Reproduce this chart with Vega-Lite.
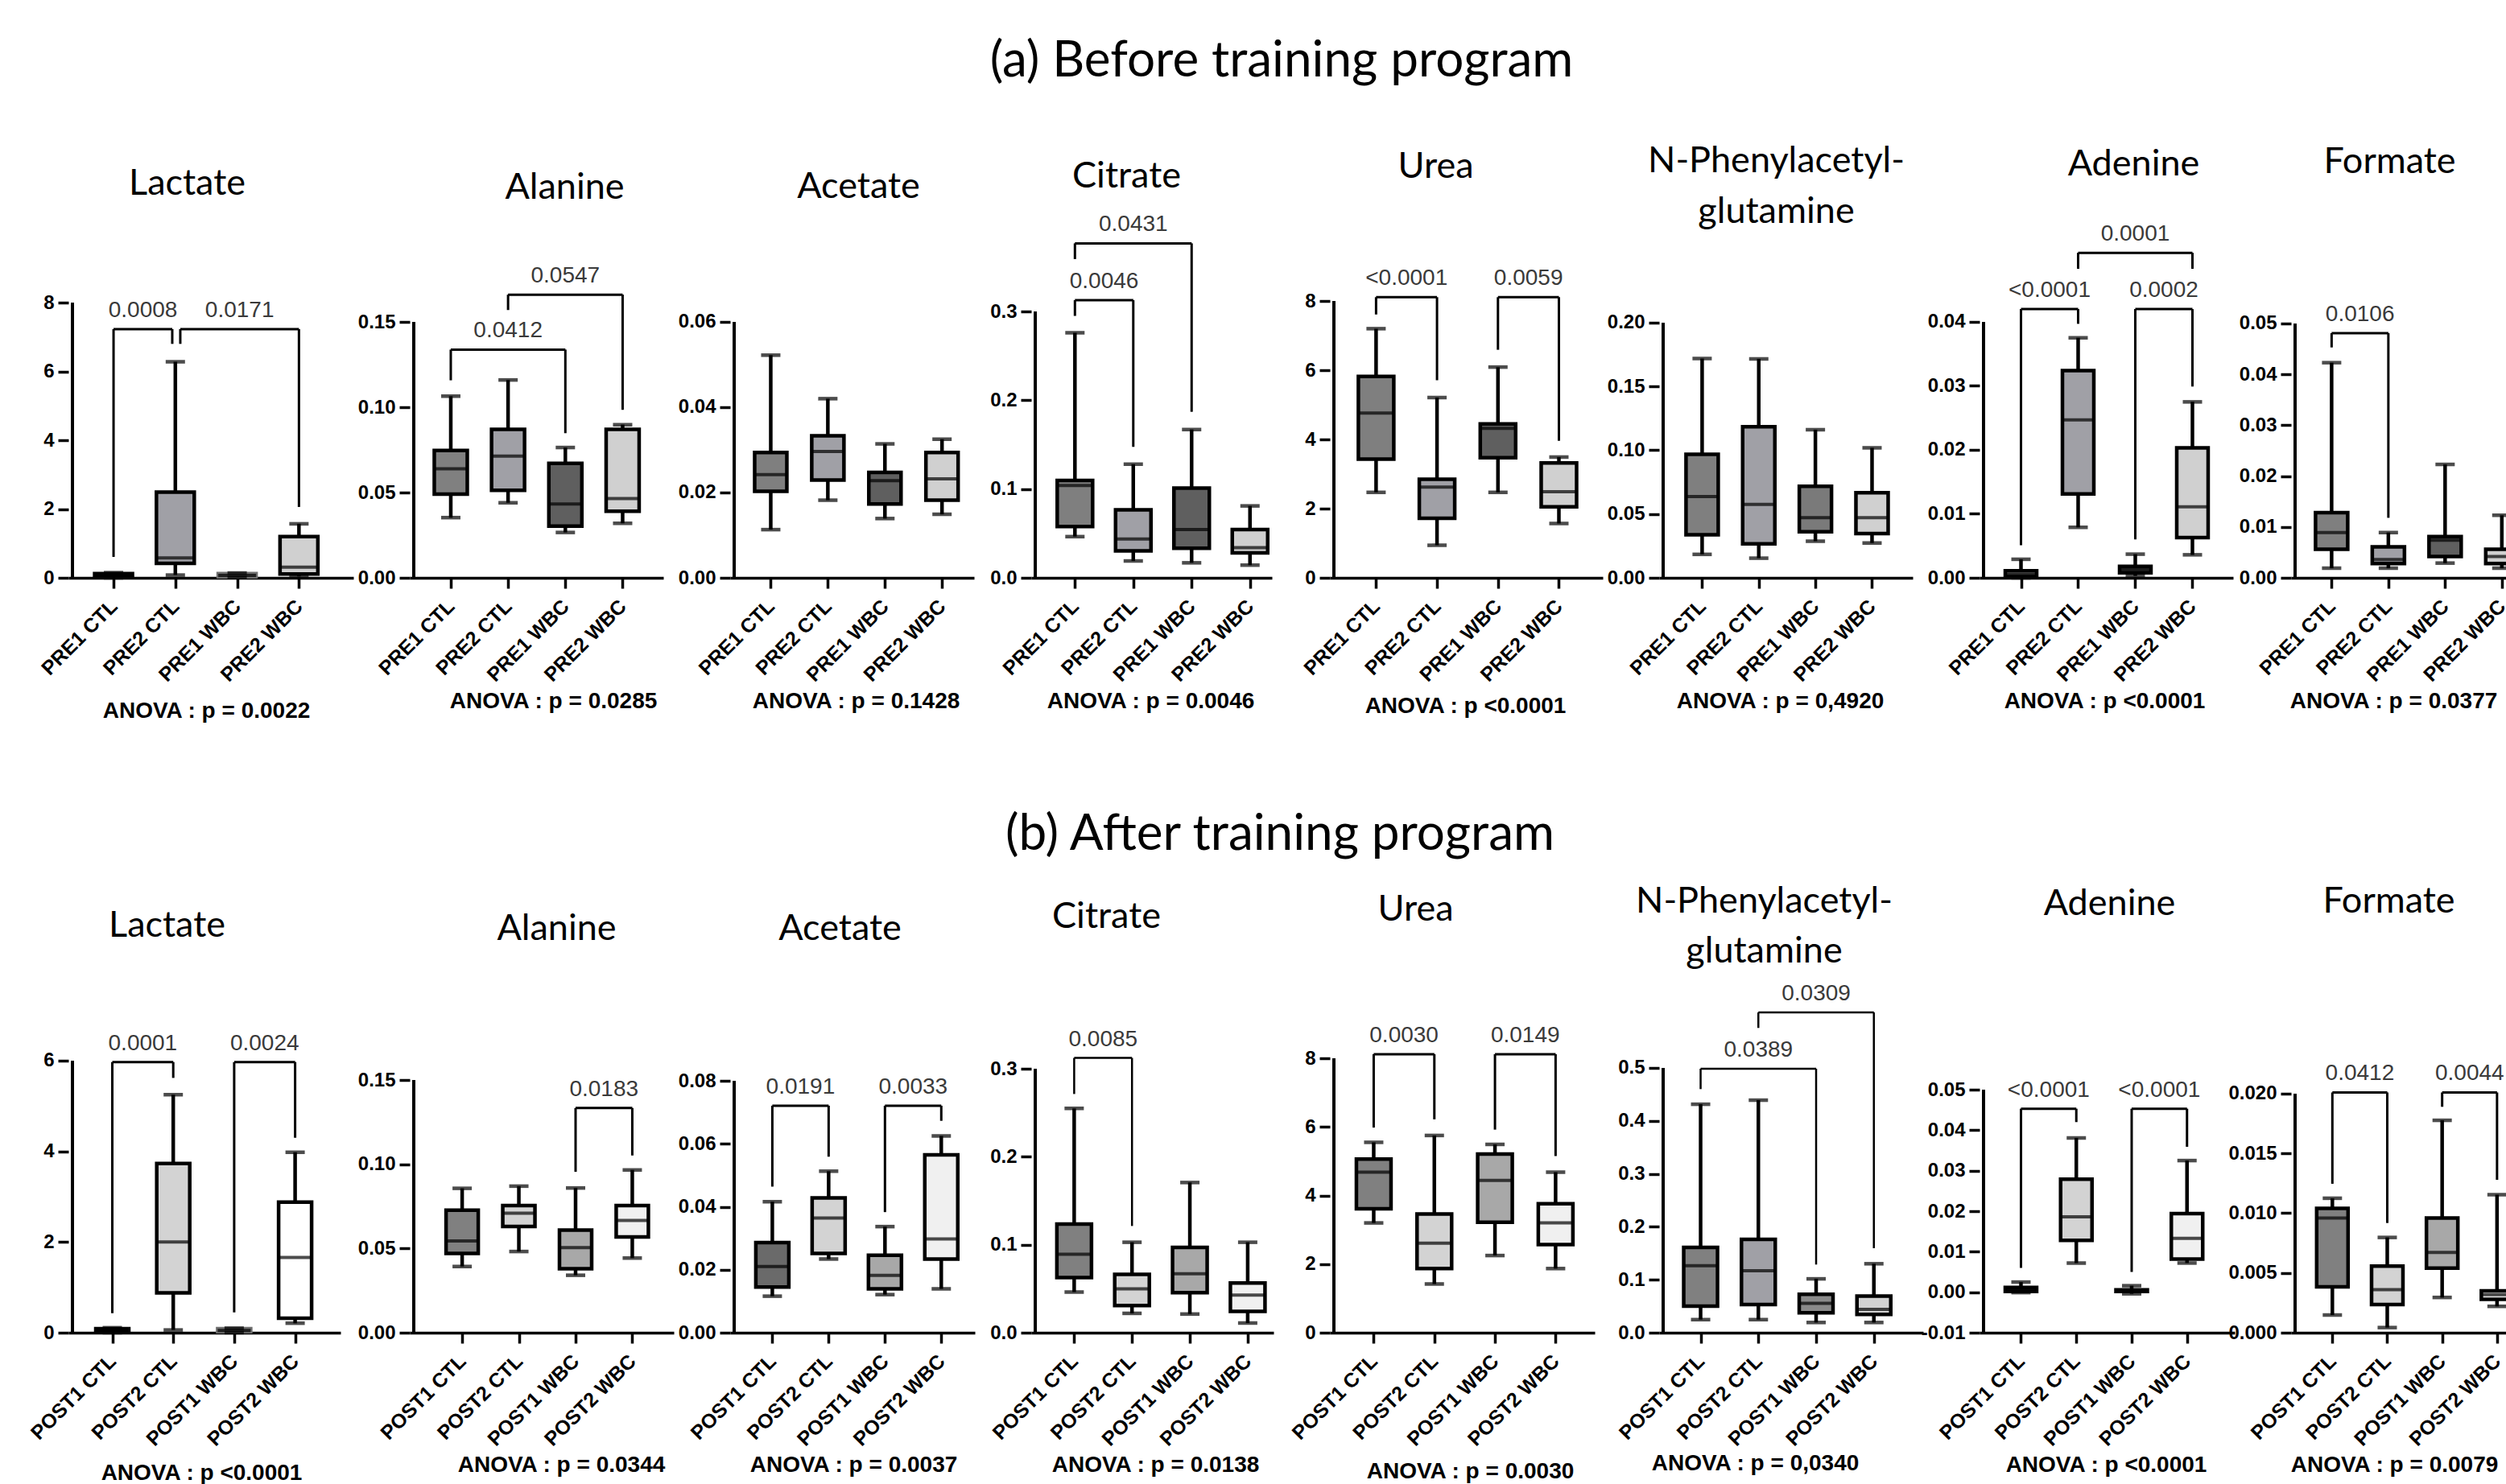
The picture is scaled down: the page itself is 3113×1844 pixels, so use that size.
{
"$schema":"https://vega.github.io/schema/vega-lite/v6.json",
"padding":{"left":33,"top":45,"right":0,"bottom":0},
"columns":8,
"spacing":{"row":597,"column":70},
"bounds":"flush",
"align":"none",
"resolve":{"scale":{"fill":"independent","stroke":"independent"}},
"datasets":{
"box":[
{"p":"A1","g":1,"lo":0,"q1":0.02,"md":0.06,"q3":0.12,"hi":0.15},
{"p":"A1","g":2,"lo":0.08,"q1":0.42,"md":0.58,"q3":2.49,"hi":6.28},
{"p":"A1","g":3,"lo":0.01,"q1":0.03,"md":0.07,"q3":0.12,"hi":0.14},
{"p":"A1","g":4,"lo":0.04,"q1":0.11,"md":0.31,"q3":1.2,"hi":1.57},
{"p":"A2","g":1,"lo":0.0353,"q1":0.0491,"md":0.0639,"q3":0.0747,"hi":0.1065},
{"p":"A2","g":2,"lo":0.044,"q1":0.0513,"md":0.0714,"q3":0.087,"hi":0.116},
{"p":"A2","g":3,"lo":0.0266,"q1":0.0303,"md":0.0433,"q3":0.0671,"hi":0.0764},
{"p":"A2","g":4,"lo":0.032,"q1":0.039,"md":0.0465,"q3":0.087,"hi":0.0898},
{"p":"A3","g":1,"lo":0.0113,"q1":0.0203,"md":0.0242,"q3":0.0294,"hi":0.0522},
{"p":"A3","g":2,"lo":0.0182,"q1":0.0229,"md":0.0296,"q3":0.0333,"hi":0.042},
{"p":"A3","g":3,"lo":0.0139,"q1":0.0173,"md":0.0228,"q3":0.0247,"hi":0.0314},
{"p":"A3","g":4,"lo":0.0149,"q1":0.0182,"md":0.0232,"q3":0.0294,"hi":0.0325},
{"p":"A4","g":1,"lo":0.0464,"q1":0.0577,"md":0.104,"q3":0.1096,"hi":0.276},
{"p":"A4","g":2,"lo":0.019,"q1":0.0303,"md":0.0438,"q3":0.0767,"hi":0.128},
{"p":"A4","g":3,"lo":0.0169,"q1":0.0333,"md":0.0544,"q3":0.101,"hi":0.167},
{"p":"A4","g":4,"lo":0.0143,"q1":0.0282,"md":0.034,"q3":0.0544,"hi":0.081},
{"p":"A5","g":1,"lo":2.47,"q1":3.43,"md":4.76,"q3":5.82,"hi":7.2},
{"p":"A5","g":2,"lo":0.94,"q1":1.72,"md":2.62,"q3":2.85,"hi":5.21},
{"p":"A5","g":3,"lo":2.47,"q1":3.47,"md":4.32,"q3":4.45,"hi":6.09},
{"p":"A5","g":4,"lo":1.57,"q1":2.05,"md":2.49,"q3":3.32,"hi":3.49},
{"p":"A6","g":1,"lo":0.0184,"q1":0.0338,"md":0.0637,"q3":0.0969,"hi":0.1719},
{"p":"A6","g":2,"lo":0.0154,"q1":0.0267,"md":0.0575,"q3":0.1185,"hi":0.1716},
{"p":"A6","g":3,"lo":0.0287,"q1":0.0361,"md":0.0471,"q3":0.0717,"hi":0.1161},
{"p":"A6","g":4,"lo":0.0273,"q1":0.0347,"md":0.0471,"q3":0.0667,"hi":0.1019},
{"p":"A7","g":1,"lo":0,"q1":0.0002,"md":0.0005,"q3":0.0011,"hi":0.0029},
{"p":"A7","g":2,"lo":0.0079,"q1":0.0131,"md":0.0247,"q3":0.0324,"hi":0.0375},
{"p":"A7","g":3,"lo":0.0003,"q1":0.0008,"md":0.0013,"q3":0.0018,"hi":0.0037},
{"p":"A7","g":4,"lo":0.0036,"q1":0.0063,"md":0.0111,"q3":0.0203,"hi":0.0275},
{"p":"A8","g":1,"lo":0.0019,"q1":0.0056,"md":0.0089,"q3":0.0128,"hi":0.0423},
{"p":"A8","g":2,"lo":0.0019,"q1":0.0028,"md":0.0036,"q3":0.0061,"hi":0.0089},
{"p":"A8","g":3,"lo":0.0029,"q1":0.0042,"md":0.0074,"q3":0.0081,"hi":0.0223},
{"p":"A8","g":4,"lo":0.0019,"q1":0.0028,"md":0.0042,"q3":0.0056,"hi":0.0123},
{"p":"B1","g":1,"lo":0,"q1":0.02,"md":0.05,"q3":0.09,"hi":0.11},
{"p":"B1","g":2,"lo":0.06,"q1":0.88,"md":2.0,"q3":3.73,"hi":5.25},
{"p":"B1","g":3,"lo":0,"q1":0.02,"md":0.05,"q3":0.09,"hi":0.1},
{"p":"B1","g":4,"lo":0.21,"q1":0.32,"md":1.66,"q3":2.88,"hi":3.98},
{"p":"B2","g":1,"lo":0.0393,"q1":0.047,"md":0.0545,"q3":0.0727,"hi":0.0857},
{"p":"B2","g":2,"lo":0.0482,"q1":0.063,"md":0.0709,"q3":0.0755,"hi":0.087},
{"p":"B2","g":3,"lo":0.0341,"q1":0.038,"md":0.0505,"q3":0.0609,"hi":0.0859},
{"p":"B2","g":4,"lo":0.0443,"q1":0.0568,"md":0.0666,"q3":0.0755,"hi":0.0966},
{"p":"B3","g":1,"lo":0.0116,"q1":0.0145,"md":0.021,"q3":0.0286,"hi":0.0416},
{"p":"B3","g":2,"lo":0.0234,"q1":0.0252,"md":0.0364,"q3":0.0428,"hi":0.0513},
{"p":"B3","g":3,"lo":0.0121,"q1":0.0139,"md":0.0182,"q3":0.0246,"hi":0.0337},
{"p":"B3","g":4,"lo":0.0139,"q1":0.0234,"md":0.0298,"q3":0.0565,"hi":0.0625},
{"p":"B4","g":1,"lo":0.0463,"q1":0.0626,"md":0.0891,"q3":0.1235,"hi":0.255},
{"p":"B4","g":2,"lo":0.022,"q1":0.0309,"md":0.0498,"q3":0.0662,"hi":0.1028},
{"p":"B4","g":3,"lo":0.0212,"q1":0.0454,"md":0.067,"q3":0.097,"hi":0.1707},
{"p":"B4","g":4,"lo":0.011,"q1":0.0243,"md":0.0428,"q3":0.0565,"hi":0.1028},
{"p":"B5","g":1,"lo":3.2,"q1":3.61,"md":4.68,"q3":5.06,"hi":5.55},
{"p":"B5","g":2,"lo":1.42,"q1":1.87,"md":2.61,"q3":3.46,"hi":5.75},
{"p":"B5","g":3,"lo":2.25,"q1":3.22,"md":4.44,"q3":5.21,"hi":5.49},
{"p":"B5","g":4,"lo":1.87,"q1":2.57,"md":3.2,"q3":3.76,"hi":4.68},
{"p":"B6","g":1,"lo":0.0247,"q1":0.05,"md":0.1264,"q3":0.161,"hi":0.4314},
{"p":"B6","g":2,"lo":0.0247,"q1":0.0532,"md":0.1171,"q3":0.1764,"hi":0.4391},
{"p":"B6","g":3,"lo":0.0193,"q1":0.0378,"md":0.0555,"q3":0.0724,"hi":0.1017},
{"p":"B6","g":4,"lo":0.0193,"q1":0.0347,"md":0.0439,"q3":0.0693,"hi":0.1302},
{"p":"B7","g":1,"lo":-0.0001,"q1":0.0002,"md":0.0007,"q3":0.0012,"hi":0.0025},
{"p":"B7","g":2,"lo":0.0072,"q1":0.0128,"md":0.0186,"q3":0.0279,"hi":0.0381},
{"p":"B7","g":3,"lo":-0.0004,"q1":0.0002,"md":0.0004,"q3":0.0006,"hi":0.0016},
{"p":"B7","g":4,"lo":0.0072,"q1":0.0082,"md":0.0133,"q3":0.0194,"hi":0.0325},
{"p":"B8","g":1,"lo":0.00148,"q1":0.00384,"md":0.0096,"q3":0.0104,"hi":0.01125},
{"p":"B8","g":2,"lo":0.00043,"q1":0.00236,"md":0.0036,"q3":0.00557,"hi":0.00797},
{"p":"B8","g":3,"lo":0.00295,"q1":0.00541,"md":0.00672,"q3":0.0096,"hi":0.01777},
{"p":"B8","g":4,"lo":0.0022,"q1":0.00279,"md":0.00318,"q3":0.0035,"hi":0.01154}
],
"br":[
{"p":"A1","g1":1,"g2":1.95,"top":7.23,"l":0.61,"r":6.8,"lab":"0.0008"},
{"p":"A1","g1":2.08,"g2":4,"top":7.23,"l":6.8,"r":2.06,"lab":"0.0171"},
{"p":"A2","g1":1,"g2":3,"top":0.1338,"l":0.1158,"r":0.0848,"lab":"0.0412"},
{"p":"A2","g1":2,"g2":4,"top":0.166,"l":0.157,"r":0.0985,"lab":"0.0547"},
{"p":"A4","g1":1,"g2":2,"top":0.3127,"l":0.295,"r":0.1475,"lab":"0.0046"},
{"p":"A4","g1":1,"g2":3,"top":0.3767,"l":0.359,"r":0.187,"lab":"0.0431"},
{"p":"A5","g1":1,"g2":2,"top":8.11,"l":7.61,"r":5.71,"lab":"<0.0001"},
{"p":"A5","g1":3,"g2":4,"top":8.11,"l":6.59,"r":3.96,"lab":"0.0059"},
{"p":"A7","g1":1,"g2":2,"top":0.042,"l":0.0051,"r":0.0397,"lab":"<0.0001"},
{"p":"A7","g1":3,"g2":4,"top":0.042,"l":0.006,"r":0.0299,"lab":"0.0002"},
{"p":"A7","g1":2,"g2":4,"top":0.0508,"l":0.0483,"r":0.0483,"lab":"0.0001"},
{"p":"A8","g1":1,"g2":2,"top":0.0481,"l":0.0453,"r":0.0118,"lab":"0.0106"},
{"p":"B1","g1":1,"g2":2,"top":5.97,"l":0.43,"r":5.62,"lab":"0.0001"},
{"p":"B1","g1":3,"g2":4,"top":5.97,"l":0.45,"r":4.3,"lab":"0.0024"},
{"p":"B2","g1":3,"g2":4,"top":0.1334,"l":0.0955,"r":0.1052,"lab":"0.0183"},
{"p":"B3","g1":1,"g2":2,"top":0.0721,"l":0.0464,"r":0.0559,"lab":"0.0191"},
{"p":"B3","g1":3,"g2":4,"top":0.0721,"l":0.0383,"r":0.0673,"lab":"0.0033"},
{"p":"B4","g1":1,"g2":2,"top":0.3123,"l":0.2713,"r":0.1213,"lab":"0.0085"},
{"p":"B5","g1":1,"g2":2,"top":8.12,"l":5.98,"r":6.22,"lab":"0.0030"},
{"p":"B5","g1":3,"g2":4,"top":8.12,"l":5.92,"r":5.15,"lab":"0.0149"},
{"p":"B6","g1":1,"g2":3,"top":0.4985,"l":0.46,"r":0.1287,"lab":"0.0389"},
{"p":"B6","g1":2,"g2":4,"top":0.6048,"l":0.5755,"r":0.1595,"lab":"0.0309"},
{"p":"B7","g1":1,"g2":2,"top":0.0453,"l":0.006,"r":0.042,"lab":"<0.0001"},
{"p":"B7","g1":3,"g2":4,"top":0.0453,"l":0.005,"r":0.0359,"lab":"<0.0001"},
{"p":"B8","g1":1,"g2":2,"top":0.0201,"l":0.01246,"r":0.00918,"lab":"0.0412"},
{"p":"B8","g1":3,"g2":4,"top":0.0201,"l":0.0189,"r":0.01279,"lab":"0.0044"}
]},
"concat":[
{"width":354,"height":344,"layer":[
{"data":{"name":"box"},"transform":[{"filter":"datum.p=='A1'"}],"layer":[
{"mark":{"type":"rule","strokeWidth":4.5,"color":"#000"},"encoding":{"x":{"field":"g","type":"quantitative","scale":{"domain":[0.335,4.816],"nice":false,"zero":false},"axis":{"orient":"bottom","values":[1,2,3,4],"labelExpr":"['PRE1 CTL','PRE2 CTL','PRE1 WBC','PRE2 WBC'][datum.value-1]","title":"ANOVA : p = 0.0022","titleX":171,"titleY":173}},"y":{"field":"lo","type":"quantitative","scale":{"domain":[0,8.047],"nice":false,"zero":false},"axis":{"values":[0,2,4,6,8],"format":"d","title":null,"domain":false}},"y2":{"field":"hi"}}},
{"mark":{"type":"bar","width":47,"strokeWidth":4.5},"encoding":{"x":{"field":"g","type":"quantitative","axis":null},"y":{"field":"q1","type":"quantitative"},"y2":{"field":"q3"},"fill":{"field":"g","type":"nominal","scale":{"domain":[1,2,3,4],"range":["#151515","#a0a0a6","#6e6e6e","#d0d0d0"]},"legend":null},"stroke":{"field":"g","type":"nominal","scale":{"domain":[1,2,3,4],"range":["#000000","#000000","#6e6e6e","#000000"]},"legend":null}}},
{"mark":{"type":"tick","orient":"horizontal","size":47,"thickness":4,"color":"#000"},"encoding":{"x":{"field":"g","type":"quantitative","axis":{"orient":"top","labels":false,"ticks":false,"domain":false,"title":"Lactate","titleFont":"Lato","titleFontSize":45,"titleFontWeight":"normal","titleX":147,"titleY":-133}},"y":{"field":"md","type":"quantitative"}}},
{"mark":{"type":"tick","orient":"horizontal","size":24,"thickness":4.5,"color":"#000"},"encoding":{"x":{"field":"g","type":"quantitative","axis":null},"y":{"field":"lo","type":"quantitative"}}},
{"mark":{"type":"tick","orient":"horizontal","size":24,"thickness":4.5,"color":"#000"},"encoding":{"x":{"field":"g","type":"quantitative","axis":null},"y":{"field":"hi","type":"quantitative"}}},
{"mark":{"type":"rule","strokeWidth":3.5,"color":"#000"},"encoding":{"x":{"datum":0.335,"type":"quantitative","axis":null},"y":{"datum":0,"type":"quantitative"},"y2":{"datum":8}}}
]},
{"data":{"name":"br"},"transform":[{"filter":"datum.p=='A1'"},{"calculate":"(datum.g1+datum.g2)/2","as":"mid"}],"layer":[
{"mark":{"type":"rule","strokeWidth":3,"color":"#000"},"encoding":{"x":{"field":"g1","type":"quantitative","axis":null},"x2":{"field":"g2"},"y":{"field":"top","type":"quantitative"}}},
{"mark":{"type":"rule","strokeWidth":3,"color":"#000"},"encoding":{"x":{"field":"g1","type":"quantitative","axis":null},"y":{"field":"top","type":"quantitative"},"y2":{"field":"l"}}},
{"mark":{"type":"rule","strokeWidth":3,"color":"#000"},"encoding":{"x":{"field":"g2","type":"quantitative","axis":null},"y":{"field":"top","type":"quantitative"},"y2":{"field":"r"}}},
{"mark":{"type":"text","font":"Liberation Sans","fontSize":28,"color":"#3a3a3a","baseline":"alphabetic","dy":-15},"encoding":{"x":{"field":"mid","type":"quantitative","axis":null},"y":{"field":"top","type":"quantitative"},"text":{"field":"lab"}}}
]}
]},
{"width":315,"height":344,"layer":[
{"data":{"name":"box"},"transform":[{"filter":"datum.p=='A2'"}],"layer":[
{"mark":{"type":"rule","strokeWidth":4.5,"color":"#000"},"encoding":{"x":{"field":"g","type":"quantitative","scale":{"domain":[0.354,4.64],"nice":false,"zero":false},"axis":{"orient":"bottom","values":[1,2,3,4],"labelExpr":"['PRE1 CTL','PRE2 CTL','PRE1 WBC','PRE2 WBC'][datum.value-1]","title":"ANOVA : p = 0.0285","titleX":178,"titleY":161}},"y":{"field":"lo","type":"quantitative","scale":{"domain":[0,0.1623],"nice":false,"zero":false},"axis":{"values":[0,0.05,0.1,0.15],"format":".2f","title":null,"domain":false}},"y2":{"field":"hi"}}},
{"mark":{"type":"bar","width":41,"stroke":"#000","strokeWidth":4.5},"encoding":{"x":{"field":"g","type":"quantitative","axis":null},"y":{"field":"q1","type":"quantitative"},"y2":{"field":"q3"},"fill":{"field":"g","type":"nominal","scale":{"domain":[1,2,3,4],"range":["#808080","#a0a0a6","#5f5f5f","#d0d0d0"]},"legend":null}}},
{"mark":{"type":"tick","orient":"horizontal","size":41,"thickness":4,"color":"#000"},"encoding":{"x":{"field":"g","type":"quantitative","axis":{"orient":"top","labels":false,"ticks":false,"domain":false,"title":"Alanine","titleFont":"Lato","titleFontSize":45,"titleFontWeight":"normal","titleX":192,"titleY":-128}},"y":{"field":"md","type":"quantitative"}}},
{"mark":{"type":"tick","orient":"horizontal","size":24,"thickness":4.5,"color":"#000"},"encoding":{"x":{"field":"g","type":"quantitative","axis":null},"y":{"field":"lo","type":"quantitative"}}},
{"mark":{"type":"tick","orient":"horizontal","size":24,"thickness":4.5,"color":"#000"},"encoding":{"x":{"field":"g","type":"quantitative","axis":null},"y":{"field":"hi","type":"quantitative"}}},
{"mark":{"type":"rule","strokeWidth":3.5,"color":"#000"},"encoding":{"x":{"datum":0.354,"type":"quantitative","axis":null},"y":{"datum":0,"type":"quantitative"},"y2":{"datum":0.15}}}
]},
{"data":{"name":"br"},"transform":[{"filter":"datum.p=='A2'"},{"calculate":"(datum.g1+datum.g2)/2","as":"mid"}],"layer":[
{"mark":{"type":"rule","strokeWidth":3,"color":"#000"},"encoding":{"x":{"field":"g1","type":"quantitative","axis":null},"x2":{"field":"g2"},"y":{"field":"top","type":"quantitative"}}},
{"mark":{"type":"rule","strokeWidth":3,"color":"#000"},"encoding":{"x":{"field":"g1","type":"quantitative","axis":null},"y":{"field":"top","type":"quantitative"},"y2":{"field":"l"}}},
{"mark":{"type":"rule","strokeWidth":3,"color":"#000"},"encoding":{"x":{"field":"g2","type":"quantitative","axis":null},"y":{"field":"top","type":"quantitative"},"y2":{"field":"r"}}},
{"mark":{"type":"text","font":"Liberation Sans","fontSize":28,"color":"#3a3a3a","baseline":"alphabetic","dy":-15},"encoding":{"x":{"field":"mid","type":"quantitative","axis":null},"y":{"field":"top","type":"quantitative"},"text":{"field":"lab"}}}
]}
]},
{"width":303,"height":344,"layer":[
{"data":{"name":"box"},"transform":[{"filter":"datum.p=='A3'"}],"layer":[
{"mark":{"type":"rule","strokeWidth":4.5,"color":"#000"},"encoding":{"x":{"field":"g","type":"quantitative","scale":{"domain":[0.359,4.491],"nice":false,"zero":false},"axis":{"orient":"bottom","values":[1,2,3,4],"labelExpr":"['PRE1 CTL','PRE2 CTL','PRE1 WBC','PRE2 WBC'][datum.value-1]","title":"ANOVA : p = 0.1428","titleX":156,"titleY":161}},"y":{"field":"lo","type":"quantitative","scale":{"domain":[0,0.0649],"nice":false,"zero":false},"axis":{"values":[0,0.02,0.04,0.06],"format":".2f","title":null,"domain":false}},"y2":{"field":"hi"}}},
{"mark":{"type":"bar","width":40,"stroke":"#000","strokeWidth":4.5},"encoding":{"x":{"field":"g","type":"quantitative","axis":null},"y":{"field":"q1","type":"quantitative"},"y2":{"field":"q3"},"fill":{"field":"g","type":"nominal","scale":{"domain":[1,2,3,4],"range":["#7f7f7f","#a0a0a6","#5f5f5f","#d0d0d0"]},"legend":null}}},
{"mark":{"type":"tick","orient":"horizontal","size":40,"thickness":4,"color":"#000"},"encoding":{"x":{"field":"g","type":"quantitative","axis":{"orient":"top","labels":false,"ticks":false,"domain":false,"title":"Acetate","titleFont":"Lato","titleFontSize":45,"titleFontWeight":"normal","titleX":159,"titleY":-129}},"y":{"field":"md","type":"quantitative"}}},
{"mark":{"type":"tick","orient":"horizontal","size":24,"thickness":4.5,"color":"#000"},"encoding":{"x":{"field":"g","type":"quantitative","axis":null},"y":{"field":"lo","type":"quantitative"}}},
{"mark":{"type":"tick","orient":"horizontal","size":24,"thickness":4.5,"color":"#000"},"encoding":{"x":{"field":"g","type":"quantitative","axis":null},"y":{"field":"hi","type":"quantitative"}}},
{"mark":{"type":"rule","strokeWidth":3.5,"color":"#000"},"encoding":{"x":{"datum":0.359,"type":"quantitative","axis":null},"y":{"datum":0,"type":"quantitative"},"y2":{"datum":0.06}}}
]}
]},
{"width":299,"height":344,"title":{"text":"(a) Before training program","anchor":"start","frame":"group","align":"center","dx":311,"offset":39,"baseline":"alphabetic"},"layer":[
{"data":{"name":"box"},"transform":[{"filter":"datum.p=='A4'"}],"layer":[
{"mark":{"type":"rule","strokeWidth":4.5,"color":"#000"},"encoding":{"x":{"field":"g","type":"quantitative","scale":{"domain":[0.32,4.307],"nice":false,"zero":false},"axis":{"orient":"bottom","values":[1,2,3,4],"labelExpr":"['PRE1 CTL','PRE2 CTL','PRE1 WBC','PRE2 WBC'][datum.value-1]","title":"ANOVA : p = 0.0046","titleX":148,"titleY":161}},"y":{"field":"lo","type":"quantitative","scale":{"domain":[0,0.3118],"nice":false,"zero":false},"axis":{"values":[0,0.1,0.2,0.3],"format":".1f","title":null,"domain":false}},"y2":{"field":"hi"}}},
{"mark":{"type":"bar","width":44,"stroke":"#000","strokeWidth":4.5},"encoding":{"x":{"field":"g","type":"quantitative","axis":null},"y":{"field":"q1","type":"quantitative"},"y2":{"field":"q3"},"fill":{"field":"g","type":"nominal","scale":{"domain":[1,2,3,4],"range":["#7f7f7f","#a0a0a6","#5f5f5f","#d0d0d0"]},"legend":null}}},
{"mark":{"type":"tick","orient":"horizontal","size":44,"thickness":4,"color":"#000"},"encoding":{"x":{"field":"g","type":"quantitative","axis":{"orient":"top","labels":false,"ticks":false,"domain":false,"title":"Citrate","titleFont":"Lato","titleFontSize":45,"titleFontWeight":"normal","titleX":118,"titleY":-142}},"y":{"field":"md","type":"quantitative"}}},
{"mark":{"type":"tick","orient":"horizontal","size":24,"thickness":4.5,"color":"#000"},"encoding":{"x":{"field":"g","type":"quantitative","axis":null},"y":{"field":"lo","type":"quantitative"}}},
{"mark":{"type":"tick","orient":"horizontal","size":24,"thickness":4.5,"color":"#000"},"encoding":{"x":{"field":"g","type":"quantitative","axis":null},"y":{"field":"hi","type":"quantitative"}}},
{"mark":{"type":"rule","strokeWidth":3.5,"color":"#000"},"encoding":{"x":{"datum":0.32,"type":"quantitative","axis":null},"y":{"datum":0,"type":"quantitative"},"y2":{"datum":0.3}}}
]},
{"data":{"name":"br"},"transform":[{"filter":"datum.p=='A4'"},{"calculate":"(datum.g1+datum.g2)/2","as":"mid"}],"layer":[
{"mark":{"type":"rule","strokeWidth":3,"color":"#000"},"encoding":{"x":{"field":"g1","type":"quantitative","axis":null},"x2":{"field":"g2"},"y":{"field":"top","type":"quantitative"}}},
{"mark":{"type":"rule","strokeWidth":3,"color":"#000"},"encoding":{"x":{"field":"g1","type":"quantitative","axis":null},"y":{"field":"top","type":"quantitative"},"y2":{"field":"l"}}},
{"mark":{"type":"rule","strokeWidth":3,"color":"#000"},"encoding":{"x":{"field":"g2","type":"quantitative","axis":null},"y":{"field":"top","type":"quantitative"},"y2":{"field":"r"}}},
{"mark":{"type":"text","font":"Liberation Sans","fontSize":28,"color":"#3a3a3a","baseline":"alphabetic","dy":-15},"encoding":{"x":{"field":"mid","type":"quantitative","axis":null},"y":{"field":"top","type":"quantitative"},"text":{"field":"lab"}}}
]}
]},
{"width":339,"height":344,"layer":[
{"data":{"name":"box"},"transform":[{"filter":"datum.p=='A5'"}],"layer":[
{"mark":{"type":"rule","strokeWidth":4.5,"color":"#000"},"encoding":{"x":{"field":"g","type":"quantitative","scale":{"domain":[0.308,4.654],"nice":false,"zero":false},"axis":{"orient":"bottom","values":[1,2,3,4],"labelExpr":"['PRE1 CTL','PRE2 CTL','PRE1 WBC','PRE2 WBC'][datum.value-1]","title":"ANOVA : p <0.0001","titleX":168,"titleY":167}},"y":{"field":"lo","type":"quantitative","scale":{"domain":[0,8],"nice":false,"zero":false},"axis":{"values":[0,2,4,6,8],"format":"d","title":null,"domain":false}},"y2":{"field":"hi"}}},
{"mark":{"type":"bar","width":44,"stroke":"#000","strokeWidth":4.5},"encoding":{"x":{"field":"g","type":"quantitative","axis":null},"y":{"field":"q1","type":"quantitative"},"y2":{"field":"q3"},"fill":{"field":"g","type":"nominal","scale":{"domain":[1,2,3,4],"range":["#7f7f7f","#a0a0a6","#5f5f5f","#d0d0d0"]},"legend":null}}},
{"mark":{"type":"tick","orient":"horizontal","size":44,"thickness":4,"color":"#000"},"encoding":{"x":{"field":"g","type":"quantitative","axis":{"orient":"top","labels":false,"ticks":false,"domain":false,"title":"Urea","titleFont":"Lato","titleFontSize":45,"titleFontWeight":"normal","titleX":131,"titleY":-154}},"y":{"field":"md","type":"quantitative"}}},
{"mark":{"type":"tick","orient":"horizontal","size":24,"thickness":4.5,"color":"#000"},"encoding":{"x":{"field":"g","type":"quantitative","axis":null},"y":{"field":"lo","type":"quantitative"}}},
{"mark":{"type":"tick","orient":"horizontal","size":24,"thickness":4.5,"color":"#000"},"encoding":{"x":{"field":"g","type":"quantitative","axis":null},"y":{"field":"hi","type":"quantitative"}}},
{"mark":{"type":"rule","strokeWidth":3.5,"color":"#000"},"encoding":{"x":{"datum":0.308,"type":"quantitative","axis":null},"y":{"datum":0,"type":"quantitative"},"y2":{"datum":8}}}
]},
{"data":{"name":"br"},"transform":[{"filter":"datum.p=='A5'"},{"calculate":"(datum.g1+datum.g2)/2","as":"mid"}],"layer":[
{"mark":{"type":"rule","strokeWidth":3,"color":"#000"},"encoding":{"x":{"field":"g1","type":"quantitative","axis":null},"x2":{"field":"g2"},"y":{"field":"top","type":"quantitative"}}},
{"mark":{"type":"rule","strokeWidth":3,"color":"#000"},"encoding":{"x":{"field":"g1","type":"quantitative","axis":null},"y":{"field":"top","type":"quantitative"},"y2":{"field":"l"}}},
{"mark":{"type":"rule","strokeWidth":3,"color":"#000"},"encoding":{"x":{"field":"g2","type":"quantitative","axis":null},"y":{"field":"top","type":"quantitative"},"y2":{"field":"r"}}},
{"mark":{"type":"text","font":"Liberation Sans","fontSize":28,"color":"#3a3a3a","baseline":"alphabetic","dy":-15},"encoding":{"x":{"field":"mid","type":"quantitative","axis":null},"y":{"field":"top","type":"quantitative"},"text":{"field":"lab"}}}
]}
]},
{"width":315,"height":344,"layer":[
{"data":{"name":"box"},"transform":[{"filter":"datum.p=='A6'"}],"layer":[
{"mark":{"type":"rule","strokeWidth":4.5,"color":"#000"},"encoding":{"x":{"field":"g","type":"quantitative","scale":{"domain":[0.312,4.647],"nice":false,"zero":false},"axis":{"orient":"bottom","values":[1,2,3,4],"labelExpr":"['PRE1 CTL','PRE2 CTL','PRE1 WBC','PRE2 WBC'][datum.value-1]","title":"ANOVA : p = 0,4920","titleX":150,"titleY":161}},"y":{"field":"lo","type":"quantitative","scale":{"domain":[0,0.217],"nice":false,"zero":false},"axis":{"values":[0,0.05,0.1,0.15,0.2],"format":".2f","title":null,"domain":false}},"y2":{"field":"hi"}}},
{"mark":{"type":"bar","width":40,"stroke":"#000","strokeWidth":4.5},"encoding":{"x":{"field":"g","type":"quantitative","axis":null},"y":{"field":"q1","type":"quantitative"},"y2":{"field":"q3"},"fill":{"field":"g","type":"nominal","scale":{"domain":[1,2,3,4],"range":["#7f7f7f","#a0a0a6","#7a7a7a","#d0d0d0"]},"legend":null}}},
{"mark":{"type":"tick","orient":"horizontal","size":40,"thickness":4,"color":"#000"},"encoding":{"x":{"field":"g","type":"quantitative","axis":{"orient":"top","labels":false,"ticks":false,"domain":false,"title":["N-Phenylacetyl-","glutamine"],"titleLineHeight":63,"titleFont":"Lato","titleFontSize":45,"titleFontWeight":"normal","titleX":145,"titleY":-161}},"y":{"field":"md","type":"quantitative"}}},
{"mark":{"type":"tick","orient":"horizontal","size":24,"thickness":4.5,"color":"#000"},"encoding":{"x":{"field":"g","type":"quantitative","axis":null},"y":{"field":"lo","type":"quantitative"}}},
{"mark":{"type":"tick","orient":"horizontal","size":24,"thickness":4.5,"color":"#000"},"encoding":{"x":{"field":"g","type":"quantitative","axis":null},"y":{"field":"hi","type":"quantitative"}}},
{"mark":{"type":"rule","strokeWidth":3.5,"color":"#000"},"encoding":{"x":{"datum":0.312,"type":"quantitative","axis":null},"y":{"datum":0,"type":"quantitative"},"y2":{"datum":0.2}}}
]}
]},
{"width":315,"height":344,"layer":[
{"data":{"name":"box"},"transform":[{"filter":"datum.p=='A7'"}],"layer":[
{"mark":{"type":"rule","strokeWidth":4.5,"color":"#000"},"encoding":{"x":{"field":"g","type":"quantitative","scale":{"domain":[0.345,4.641],"nice":false,"zero":false},"axis":{"orient":"bottom","values":[1,2,3,4],"labelExpr":"['PRE1 CTL','PRE2 CTL','PRE1 WBC','PRE2 WBC'][datum.value-1]","title":"ANOVA : p <0.0001","titleX":155,"titleY":161}},"y":{"field":"lo","type":"quantitative","scale":{"domain":[0,0.04327],"nice":false,"zero":false},"axis":{"values":[0,0.01,0.02,0.03,0.04],"format":".2f","title":null,"domain":false}},"y2":{"field":"hi"}}},
{"mark":{"type":"bar","width":39,"stroke":"#000","strokeWidth":4.5},"encoding":{"x":{"field":"g","type":"quantitative","axis":null},"y":{"field":"q1","type":"quantitative"},"y2":{"field":"q3"},"fill":{"field":"g","type":"nominal","scale":{"domain":[1,2,3,4],"range":["#7f7f7f","#a0a0a6","#5f5f5f","#d0d0d0"]},"legend":null}}},
{"mark":{"type":"tick","orient":"horizontal","size":39,"thickness":4,"color":"#000"},"encoding":{"x":{"field":"g","type":"quantitative","axis":{"orient":"top","labels":false,"ticks":false,"domain":false,"title":"Adenine","titleFont":"Lato","titleFontSize":45,"titleFontWeight":"normal","titleX":191,"titleY":-157}},"y":{"field":"md","type":"quantitative"}}},
{"mark":{"type":"tick","orient":"horizontal","size":24,"thickness":4.5,"color":"#000"},"encoding":{"x":{"field":"g","type":"quantitative","axis":null},"y":{"field":"lo","type":"quantitative"}}},
{"mark":{"type":"tick","orient":"horizontal","size":24,"thickness":4.5,"color":"#000"},"encoding":{"x":{"field":"g","type":"quantitative","axis":null},"y":{"field":"hi","type":"quantitative"}}},
{"mark":{"type":"rule","strokeWidth":3.5,"color":"#000"},"encoding":{"x":{"datum":0.345,"type":"quantitative","axis":null},"y":{"datum":0,"type":"quantitative"},"y2":{"datum":0.04}}}
]},
{"data":{"name":"br"},"transform":[{"filter":"datum.p=='A7'"},{"calculate":"(datum.g1+datum.g2)/2","as":"mid"}],"layer":[
{"mark":{"type":"rule","strokeWidth":3,"color":"#000"},"encoding":{"x":{"field":"g1","type":"quantitative","axis":null},"x2":{"field":"g2"},"y":{"field":"top","type":"quantitative"}}},
{"mark":{"type":"rule","strokeWidth":3,"color":"#000"},"encoding":{"x":{"field":"g1","type":"quantitative","axis":null},"y":{"field":"top","type":"quantitative"},"y2":{"field":"l"}}},
{"mark":{"type":"rule","strokeWidth":3,"color":"#000"},"encoding":{"x":{"field":"g2","type":"quantitative","axis":null},"y":{"field":"top","type":"quantitative"},"y2":{"field":"r"}}},
{"mark":{"type":"text","font":"Liberation Sans","fontSize":28,"color":"#3a3a3a","baseline":"alphabetic","dy":-15},"encoding":{"x":{"field":"mid","type":"quantitative","axis":null},"y":{"field":"top","type":"quantitative"},"text":{"field":"lab"}}}
]}
]},
{"width":290,"height":344,"layer":[
{"data":{"name":"box"},"transform":[{"filter":"datum.p=='A8'"}],"layer":[
{"mark":{"type":"rule","strokeWidth":4.5,"color":"#000"},"encoding":{"x":{"field":"g","type":"quantitative","scale":{"domain":[0.356,4.329],"nice":false,"zero":false},"axis":{"orient":"bottom","values":[1,2,3,4],"labelExpr":"['PRE1 CTL','PRE2 CTL','PRE1 WBC','PRE2 WBC'][datum.value-1]","title":"ANOVA : p = 0.0377","titleX":127,"titleY":161}},"y":{"field":"lo","type":"quantitative","scale":{"domain":[0,0.05443],"nice":false,"zero":false},"axis":{"values":[0,0.01,0.02,0.03,0.04,0.05],"format":".2f","title":null,"domain":false}},"y2":{"field":"hi"}}},
{"mark":{"type":"bar","width":40,"stroke":"#000","strokeWidth":4.5},"encoding":{"x":{"field":"g","type":"quantitative","axis":null},"y":{"field":"q1","type":"quantitative"},"y2":{"field":"q3"},"fill":{"field":"g","type":"nominal","scale":{"domain":[1,2,3,4],"range":["#7f7f7f","#a0a0a6","#5f5f5f","#d0d0d0"]},"legend":null}}},
{"mark":{"type":"tick","orient":"horizontal","size":40,"thickness":4,"color":"#000"},"encoding":{"x":{"field":"g","type":"quantitative","axis":{"orient":"top","labels":false,"ticks":false,"domain":false,"title":"Formate","titleFont":"Lato","titleFontSize":45,"titleFontWeight":"normal","titleX":122,"titleY":-160}},"y":{"field":"md","type":"quantitative"}}},
{"mark":{"type":"tick","orient":"horizontal","size":24,"thickness":4.5,"color":"#000"},"encoding":{"x":{"field":"g","type":"quantitative","axis":null},"y":{"field":"lo","type":"quantitative"}}},
{"mark":{"type":"tick","orient":"horizontal","size":24,"thickness":4.5,"color":"#000"},"encoding":{"x":{"field":"g","type":"quantitative","axis":null},"y":{"field":"hi","type":"quantitative"}}},
{"mark":{"type":"rule","strokeWidth":3.5,"color":"#000"},"encoding":{"x":{"datum":0.356,"type":"quantitative","axis":null},"y":{"datum":0,"type":"quantitative"},"y2":{"datum":0.05}}}
]},
{"data":{"name":"br"},"transform":[{"filter":"datum.p=='A8'"},{"calculate":"(datum.g1+datum.g2)/2","as":"mid"}],"layer":[
{"mark":{"type":"rule","strokeWidth":3,"color":"#000"},"encoding":{"x":{"field":"g1","type":"quantitative","axis":null},"x2":{"field":"g2"},"y":{"field":"top","type":"quantitative"}}},
{"mark":{"type":"rule","strokeWidth":3,"color":"#000"},"encoding":{"x":{"field":"g1","type":"quantitative","axis":null},"y":{"field":"top","type":"quantitative"},"y2":{"field":"l"}}},
{"mark":{"type":"rule","strokeWidth":3,"color":"#000"},"encoding":{"x":{"field":"g2","type":"quantitative","axis":null},"y":{"field":"top","type":"quantitative"},"y2":{"field":"r"}}},
{"mark":{"type":"text","font":"Liberation Sans","fontSize":28,"color":"#3a3a3a","baseline":"alphabetic","dy":-15},"encoding":{"x":{"field":"mid","type":"quantitative","axis":null},"y":{"field":"top","type":"quantitative"},"text":{"field":"lab"}}}
]}
]},
{"width":338,"height":341,"layer":[
{"data":{"name":"box"},"transform":[{"filter":"datum.p=='B1'"}],"layer":[
{"mark":{"type":"rule","strokeWidth":4.5,"color":"#000"},"encoding":{"x":{"field":"g","type":"quantitative","scale":{"domain":[0.346,4.679],"nice":false,"zero":false},"axis":{"orient":"bottom","values":[1,2,3,4],"labelExpr":"['POST1 CTL','POST2 CTL','POST1 WBC','POST2 WBC'][datum.value-1]","title":"ANOVA : p <0.0001","titleX":165,"titleY":182}},"y":{"field":"lo","type":"quantitative","scale":{"domain":[0,6.053],"nice":false,"zero":false},"axis":{"values":[0,2,4,6],"format":"d","title":null,"domain":false}},"y2":{"field":"hi"}}},
{"mark":{"type":"bar","width":41,"strokeWidth":4.5},"encoding":{"x":{"field":"g","type":"quantitative","axis":null},"y":{"field":"q1","type":"quantitative"},"y2":{"field":"q3"},"fill":{"field":"g","type":"nominal","scale":{"domain":[1,2,3,4],"range":["#151515","#d3d3d3","#6e6e6e","#ffffff"]},"legend":null},"stroke":{"field":"g","type":"nominal","scale":{"domain":[1,2,3,4],"range":["#000000","#000000","#6e6e6e","#000000"]},"legend":null}}},
{"mark":{"type":"tick","orient":"horizontal","size":41,"thickness":4,"color":"#000"},"encoding":{"x":{"field":"g","type":"quantitative","axis":{"orient":"top","labels":false,"ticks":false,"domain":false,"title":"Lactate","titleFont":"Lato","titleFontSize":45,"titleFontWeight":"normal","titleX":122,"titleY":-152}},"y":{"field":"md","type":"quantitative"}}},
{"mark":{"type":"tick","orient":"horizontal","size":24,"thickness":4.5,"color":"#000"},"encoding":{"x":{"field":"g","type":"quantitative","axis":null},"y":{"field":"lo","type":"quantitative"}}},
{"mark":{"type":"tick","orient":"horizontal","size":24,"thickness":4.5,"color":"#000"},"encoding":{"x":{"field":"g","type":"quantitative","axis":null},"y":{"field":"hi","type":"quantitative"}}},
{"mark":{"type":"rule","strokeWidth":3.5,"color":"#000"},"encoding":{"x":{"datum":0.346,"type":"quantitative","axis":null},"y":{"datum":0,"type":"quantitative"},"y2":{"datum":6}}}
]},
{"data":{"name":"br"},"transform":[{"filter":"datum.p=='B1'"},{"calculate":"(datum.g1+datum.g2)/2","as":"mid"}],"layer":[
{"mark":{"type":"rule","strokeWidth":3,"color":"#000"},"encoding":{"x":{"field":"g1","type":"quantitative","axis":null},"x2":{"field":"g2"},"y":{"field":"top","type":"quantitative"}}},
{"mark":{"type":"rule","strokeWidth":3,"color":"#000"},"encoding":{"x":{"field":"g1","type":"quantitative","axis":null},"y":{"field":"top","type":"quantitative"},"y2":{"field":"l"}}},
{"mark":{"type":"rule","strokeWidth":3,"color":"#000"},"encoding":{"x":{"field":"g2","type":"quantitative","axis":null},"y":{"field":"top","type":"quantitative"},"y2":{"field":"r"}}},
{"mark":{"type":"text","font":"Liberation Sans","fontSize":28,"color":"#3a3a3a","baseline":"alphabetic","dy":-15},"encoding":{"x":{"field":"mid","type":"quantitative","axis":null},"y":{"field":"top","type":"quantitative"},"text":{"field":"lab"}}}
]}
]},
{"width":328,"height":341,"layer":[
{"data":{"name":"box"},"transform":[{"filter":"datum.p=='B2'"}],"layer":[
{"mark":{"type":"rule","strokeWidth":4.5,"color":"#000"},"encoding":{"x":{"field":"g","type":"quantitative","scale":{"domain":[0.147,4.661],"nice":false,"zero":false},"axis":{"orient":"bottom","values":[1,2,3,4],"labelExpr":"['POST1 CTL','POST2 CTL','POST1 WBC','POST2 WBC'][datum.value-1]","title":"ANOVA : p = 0.0344","titleX":188,"titleY":172}},"y":{"field":"lo","type":"quantitative","scale":{"domain":[0,0.1629],"nice":false,"zero":false},"axis":{"values":[0,0.05,0.1,0.15],"format":".2f","title":null,"domain":false}},"y2":{"field":"hi"}}},
{"mark":{"type":"bar","width":40,"stroke":"#000","strokeWidth":4.5},"encoding":{"x":{"field":"g","type":"quantitative","axis":null},"y":{"field":"q1","type":"quantitative"},"y2":{"field":"q3"},"fill":{"field":"g","type":"nominal","scale":{"domain":[1,2,3,4],"range":["#808080","#d3d3d3","#a8a8a8","#f0f0f0"]},"legend":null}}},
{"mark":{"type":"tick","orient":"horizontal","size":40,"thickness":4,"color":"#000"},"encoding":{"x":{"field":"g","type":"quantitative","axis":{"orient":"top","labels":false,"ticks":false,"domain":false,"title":"Alanine","titleFont":"Lato","titleFontSize":45,"titleFontWeight":"normal","titleX":182,"titleY":-148}},"y":{"field":"md","type":"quantitative"}}},
{"mark":{"type":"tick","orient":"horizontal","size":24,"thickness":4.5,"color":"#000"},"encoding":{"x":{"field":"g","type":"quantitative","axis":null},"y":{"field":"lo","type":"quantitative"}}},
{"mark":{"type":"tick","orient":"horizontal","size":24,"thickness":4.5,"color":"#000"},"encoding":{"x":{"field":"g","type":"quantitative","axis":null},"y":{"field":"hi","type":"quantitative"}}},
{"mark":{"type":"rule","strokeWidth":3.5,"color":"#000"},"encoding":{"x":{"datum":0.147,"type":"quantitative","axis":null},"y":{"datum":0,"type":"quantitative"},"y2":{"datum":0.15}}}
]},
{"data":{"name":"br"},"transform":[{"filter":"datum.p=='B2'"},{"calculate":"(datum.g1+datum.g2)/2","as":"mid"}],"layer":[
{"mark":{"type":"rule","strokeWidth":3,"color":"#000"},"encoding":{"x":{"field":"g1","type":"quantitative","axis":null},"x2":{"field":"g2"},"y":{"field":"top","type":"quantitative"}}},
{"mark":{"type":"rule","strokeWidth":3,"color":"#000"},"encoding":{"x":{"field":"g1","type":"quantitative","axis":null},"y":{"field":"top","type":"quantitative"},"y2":{"field":"l"}}},
{"mark":{"type":"rule","strokeWidth":3,"color":"#000"},"encoding":{"x":{"field":"g2","type":"quantitative","axis":null},"y":{"field":"top","type":"quantitative"},"y2":{"field":"r"}}},
{"mark":{"type":"text","font":"Liberation Sans","fontSize":28,"color":"#3a3a3a","baseline":"alphabetic","dy":-15},"encoding":{"x":{"field":"mid","type":"quantitative","axis":null},"y":{"field":"top","type":"quantitative"},"text":{"field":"lab"}}}
]}
]},
{"width":304,"height":341,"layer":[
{"data":{"name":"box"},"transform":[{"filter":"datum.p=='B3'"}],"layer":[
{"mark":{"type":"rule","strokeWidth":4.5,"color":"#000"},"encoding":{"x":{"field":"g","type":"quantitative","scale":{"domain":[0.3225,4.525],"nice":false,"zero":false},"axis":{"orient":"bottom","values":[1,2,3,4],"labelExpr":"['POST1 CTL','POST2 CTL','POST1 WBC','POST2 WBC'][datum.value-1]","title":"ANOVA : p = 0.0037","titleX":153,"titleY":172}},"y":{"field":"lo","type":"quantitative","scale":{"domain":[0,0.08716],"nice":false,"zero":false},"axis":{"values":[0,0.02,0.04,0.06,0.08],"format":".2f","title":null,"domain":false}},"y2":{"field":"hi"}}},
{"mark":{"type":"bar","width":41,"stroke":"#000","strokeWidth":4.5},"encoding":{"x":{"field":"g","type":"quantitative","axis":null},"y":{"field":"q1","type":"quantitative"},"y2":{"field":"q3"},"fill":{"field":"g","type":"nominal","scale":{"domain":[1,2,3,4],"range":["#6a6a6a","#d3d3d3","#a8a8a8","#f0f0f0"]},"legend":null}}},
{"mark":{"type":"tick","orient":"horizontal","size":41,"thickness":4,"color":"#000"},"encoding":{"x":{"field":"g","type":"quantitative","axis":{"orient":"top","labels":false,"ticks":false,"domain":false,"title":"Acetate","titleFont":"Lato","titleFontSize":45,"titleFontWeight":"normal","titleX":136,"titleY":-148}},"y":{"field":"md","type":"quantitative"}}},
{"mark":{"type":"tick","orient":"horizontal","size":24,"thickness":4.5,"color":"#000"},"encoding":{"x":{"field":"g","type":"quantitative","axis":null},"y":{"field":"lo","type":"quantitative"}}},
{"mark":{"type":"tick","orient":"horizontal","size":24,"thickness":4.5,"color":"#000"},"encoding":{"x":{"field":"g","type":"quantitative","axis":null},"y":{"field":"hi","type":"quantitative"}}},
{"mark":{"type":"rule","strokeWidth":3.5,"color":"#000"},"encoding":{"x":{"datum":0.3225,"type":"quantitative","axis":null},"y":{"datum":0,"type":"quantitative"},"y2":{"datum":0.08}}}
]},
{"data":{"name":"br"},"transform":[{"filter":"datum.p=='B3'"},{"calculate":"(datum.g1+datum.g2)/2","as":"mid"}],"layer":[
{"mark":{"type":"rule","strokeWidth":3,"color":"#000"},"encoding":{"x":{"field":"g1","type":"quantitative","axis":null},"x2":{"field":"g2"},"y":{"field":"top","type":"quantitative"}}},
{"mark":{"type":"rule","strokeWidth":3,"color":"#000"},"encoding":{"x":{"field":"g1","type":"quantitative","axis":null},"y":{"field":"top","type":"quantitative"},"y2":{"field":"l"}}},
{"mark":{"type":"rule","strokeWidth":3,"color":"#000"},"encoding":{"x":{"field":"g2","type":"quantitative","axis":null},"y":{"field":"top","type":"quantitative"},"y2":{"field":"r"}}},
{"mark":{"type":"text","font":"Liberation Sans","fontSize":28,"color":"#3a3a3a","baseline":"alphabetic","dy":-15},"encoding":{"x":{"field":"mid","type":"quantitative","axis":null},"y":{"field":"top","type":"quantitative"},"text":{"field":"lab"}}}
]}
]},
{"width":301,"height":341,"title":{"text":"(b) After training program","anchor":"start","frame":"group","align":"center","dx":309,"offset":-2,"baseline":"alphabetic"},"layer":[
{"data":{"name":"box"},"transform":[{"filter":"datum.p=='B4'"}],"layer":[
{"mark":{"type":"rule","strokeWidth":4.5,"color":"#000"},"encoding":{"x":{"field":"g","type":"quantitative","scale":{"domain":[0.327,4.377],"nice":false,"zero":false},"axis":{"orient":"bottom","values":[1,2,3,4],"labelExpr":"['POST1 CTL','POST2 CTL','POST1 WBC','POST2 WBC'][datum.value-1]","title":"ANOVA : p = 0.0138","titleX":154,"titleY":172}},"y":{"field":"lo","type":"quantitative","scale":{"domain":[0,0.3119],"nice":false,"zero":false},"axis":{"values":[0,0.1,0.2,0.3],"format":".1f","title":null,"domain":false}},"y2":{"field":"hi"}}},
{"mark":{"type":"bar","width":43,"stroke":"#000","strokeWidth":4.5},"encoding":{"x":{"field":"g","type":"quantitative","axis":null},"y":{"field":"q1","type":"quantitative"},"y2":{"field":"q3"},"fill":{"field":"g","type":"nominal","scale":{"domain":[1,2,3,4],"range":["#808080","#d3d3d3","#a8a8a8","#f0f0f0"]},"legend":null}}},
{"mark":{"type":"tick","orient":"horizontal","size":43,"thickness":4,"color":"#000"},"encoding":{"x":{"field":"g","type":"quantitative","axis":{"orient":"top","labels":false,"ticks":false,"domain":false,"title":"Citrate","titleFont":"Lato","titleFontSize":45,"titleFontWeight":"normal","titleX":93,"titleY":-163}},"y":{"field":"md","type":"quantitative"}}},
{"mark":{"type":"tick","orient":"horizontal","size":24,"thickness":4.5,"color":"#000"},"encoding":{"x":{"field":"g","type":"quantitative","axis":null},"y":{"field":"lo","type":"quantitative"}}},
{"mark":{"type":"tick","orient":"horizontal","size":24,"thickness":4.5,"color":"#000"},"encoding":{"x":{"field":"g","type":"quantitative","axis":null},"y":{"field":"hi","type":"quantitative"}}},
{"mark":{"type":"rule","strokeWidth":3.5,"color":"#000"},"encoding":{"x":{"datum":0.327,"type":"quantitative","axis":null},"y":{"datum":0,"type":"quantitative"},"y2":{"datum":0.3}}}
]},
{"data":{"name":"br"},"transform":[{"filter":"datum.p=='B4'"},{"calculate":"(datum.g1+datum.g2)/2","as":"mid"}],"layer":[
{"mark":{"type":"rule","strokeWidth":2.5,"color":"#000"},"encoding":{"x":{"field":"g1","type":"quantitative","axis":null},"x2":{"field":"g2"},"y":{"field":"top","type":"quantitative"}}},
{"mark":{"type":"rule","strokeWidth":2.5,"color":"#000"},"encoding":{"x":{"field":"g1","type":"quantitative","axis":null},"y":{"field":"top","type":"quantitative"},"y2":{"field":"l"}}},
{"mark":{"type":"rule","strokeWidth":2.5,"color":"#000"},"encoding":{"x":{"field":"g2","type":"quantitative","axis":null},"y":{"field":"top","type":"quantitative"},"y2":{"field":"r"}}},
{"mark":{"type":"text","font":"Liberation Sans","fontSize":28,"color":"#3a3a3a","baseline":"alphabetic","dy":-15},"encoding":{"x":{"field":"mid","type":"quantitative","axis":null},"y":{"field":"top","type":"quantitative"},"text":{"field":"lab"}}}
]}
]},
{"width":329,"height":341,"layer":[
{"data":{"name":"box"},"transform":[{"filter":"datum.p=='B5'"}],"layer":[
{"mark":{"type":"rule","strokeWidth":4.5,"color":"#000"},"encoding":{"x":{"field":"g","type":"quantitative","scale":{"domain":[0.3434,4.579],"nice":false,"zero":false},"axis":{"orient":"bottom","values":[1,2,3,4],"labelExpr":"['POST1 CTL','POST2 CTL','POST1 WBC','POST2 WBC'][datum.value-1]","title":"ANOVA : p = 0.0030","titleX":174,"titleY":180}},"y":{"field":"lo","type":"quantitative","scale":{"domain":[0,8],"nice":false,"zero":false},"axis":{"values":[0,2,4,6,8],"format":"d","title":null,"domain":false}},"y2":{"field":"hi"}}},
{"mark":{"type":"bar","width":43,"stroke":"#000","strokeWidth":4.5},"encoding":{"x":{"field":"g","type":"quantitative","axis":null},"y":{"field":"q1","type":"quantitative"},"y2":{"field":"q3"},"fill":{"field":"g","type":"nominal","scale":{"domain":[1,2,3,4],"range":["#808080","#d3d3d3","#a8a8a8","#f0f0f0"]},"legend":null}}},
{"mark":{"type":"tick","orient":"horizontal","size":43,"thickness":4,"color":"#000"},"encoding":{"x":{"field":"g","type":"quantitative","axis":{"orient":"top","labels":false,"ticks":false,"domain":false,"title":"Urea","titleFont":"Lato","titleFontSize":45,"titleFontWeight":"normal","titleX":106,"titleY":-172}},"y":{"field":"md","type":"quantitative"}}},
{"mark":{"type":"tick","orient":"horizontal","size":24,"thickness":4.5,"color":"#000"},"encoding":{"x":{"field":"g","type":"quantitative","axis":null},"y":{"field":"lo","type":"quantitative"}}},
{"mark":{"type":"tick","orient":"horizontal","size":24,"thickness":4.5,"color":"#000"},"encoding":{"x":{"field":"g","type":"quantitative","axis":null},"y":{"field":"hi","type":"quantitative"}}},
{"mark":{"type":"rule","strokeWidth":3.5,"color":"#000"},"encoding":{"x":{"datum":0.3434,"type":"quantitative","axis":null},"y":{"datum":0,"type":"quantitative"},"y2":{"datum":8}}}
]},
{"data":{"name":"br"},"transform":[{"filter":"datum.p=='B5'"},{"calculate":"(datum.g1+datum.g2)/2","as":"mid"}],"layer":[
{"mark":{"type":"rule","strokeWidth":3,"color":"#000"},"encoding":{"x":{"field":"g1","type":"quantitative","axis":null},"x2":{"field":"g2"},"y":{"field":"top","type":"quantitative"}}},
{"mark":{"type":"rule","strokeWidth":3,"color":"#000"},"encoding":{"x":{"field":"g1","type":"quantitative","axis":null},"y":{"field":"top","type":"quantitative"},"y2":{"field":"l"}}},
{"mark":{"type":"rule","strokeWidth":3,"color":"#000"},"encoding":{"x":{"field":"g2","type":"quantitative","axis":null},"y":{"field":"top","type":"quantitative"},"y2":{"field":"r"}}},
{"mark":{"type":"text","font":"Liberation Sans","fontSize":28,"color":"#3a3a3a","baseline":"alphabetic","dy":-15},"encoding":{"x":{"field":"mid","type":"quantitative","axis":null},"y":{"field":"top","type":"quantitative"},"text":{"field":"lab"}}}
]}
]},
{"width":328,"height":341,"layer":[
{"data":{"name":"box"},"transform":[{"filter":"datum.p=='B6'"}],"layer":[
{"mark":{"type":"rule","strokeWidth":4.5,"color":"#000"},"encoding":{"x":{"field":"g","type":"quantitative","scale":{"domain":[0.3514,4.784],"nice":false,"zero":false},"axis":{"orient":"bottom","values":[1,2,3,4],"labelExpr":"['POST1 CTL','POST2 CTL','POST1 WBC','POST2 WBC'][datum.value-1]","title":"ANOVA : p = 0,0340","titleX":119,"titleY":170}},"y":{"field":"lo","type":"quantitative","scale":{"domain":[0,0.5182],"nice":false,"zero":false},"axis":{"values":[0,0.1,0.2,0.3,0.4,0.5],"format":".1f","title":null,"domain":false}},"y2":{"field":"hi"}}},
{"mark":{"type":"bar","width":42,"stroke":"#000","strokeWidth":4.5},"encoding":{"x":{"field":"g","type":"quantitative","axis":null},"y":{"field":"q1","type":"quantitative"},"y2":{"field":"q3"},"fill":{"field":"g","type":"nominal","scale":{"domain":[1,2,3,4],"range":["#808080","#a0a0a6","#8a8a8a","#d3d3d3"]},"legend":null}}},
{"mark":{"type":"tick","orient":"horizontal","size":42,"thickness":4,"color":"#000"},"encoding":{"x":{"field":"g","type":"quantitative","axis":{"orient":"top","labels":false,"ticks":false,"domain":false,"title":["N-Phenylacetyl-","glutamine"],"titleLineHeight":62,"titleFont":"Lato","titleFontSize":45,"titleFontWeight":"normal","titleX":130,"titleY":-182}},"y":{"field":"md","type":"quantitative"}}},
{"mark":{"type":"tick","orient":"horizontal","size":24,"thickness":4.5,"color":"#000"},"encoding":{"x":{"field":"g","type":"quantitative","axis":null},"y":{"field":"lo","type":"quantitative"}}},
{"mark":{"type":"tick","orient":"horizontal","size":24,"thickness":4.5,"color":"#000"},"encoding":{"x":{"field":"g","type":"quantitative","axis":null},"y":{"field":"hi","type":"quantitative"}}},
{"mark":{"type":"rule","strokeWidth":3.5,"color":"#000"},"encoding":{"x":{"datum":0.3514,"type":"quantitative","axis":null},"y":{"datum":0,"type":"quantitative"},"y2":{"datum":0.5}}}
]},
{"data":{"name":"br"},"transform":[{"filter":"datum.p=='B6'"},{"calculate":"(datum.g1+datum.g2)/2","as":"mid"}],"layer":[
{"mark":{"type":"rule","strokeWidth":2.5,"color":"#000"},"encoding":{"x":{"field":"g1","type":"quantitative","axis":null},"x2":{"field":"g2"},"y":{"field":"top","type":"quantitative"}}},
{"mark":{"type":"rule","strokeWidth":2.5,"color":"#000"},"encoding":{"x":{"field":"g1","type":"quantitative","axis":null},"y":{"field":"top","type":"quantitative"},"y2":{"field":"l"}}},
{"mark":{"type":"rule","strokeWidth":2.5,"color":"#000"},"encoding":{"x":{"field":"g2","type":"quantitative","axis":null},"y":{"field":"top","type":"quantitative"},"y2":{"field":"r"}}},
{"mark":{"type":"text","font":"Liberation Sans","fontSize":28,"color":"#3a3a3a","baseline":"alphabetic","dy":-15},"encoding":{"x":{"field":"mid","type":"quantitative","axis":null},"y":{"field":"top","type":"quantitative"},"text":{"field":"lab"}}}
]}
]},
{"width":317,"height":341,"layer":[
{"data":{"name":"box"},"transform":[{"filter":"datum.p=='B7'"}],"layer":[
{"mark":{"type":"rule","strokeWidth":4.5,"color":"#000"},"encoding":{"x":{"field":"g","type":"quantitative","scale":{"domain":[0.324,4.789],"nice":false,"zero":false},"axis":{"orient":"bottom","values":[1,2,3,4],"labelExpr":"['POST1 CTL','POST2 CTL','POST1 WBC','POST2 WBC'][datum.value-1]","title":"ANOVA : p <0.0001","titleX":157,"titleY":172}},"y":{"field":"lo","type":"quantitative","scale":{"domain":[-0.01,0.05775],"nice":false,"zero":false},"axis":{"values":[-0.01,0,0.01,0.02,0.03,0.04,0.05],"format":".2f","labelExpr":"replace(datum.label,'\u2212','-')","title":null,"domain":false}},"y2":{"field":"hi"}}},
{"mark":{"type":"bar","width":39,"stroke":"#000","strokeWidth":4.5},"encoding":{"x":{"field":"g","type":"quantitative","axis":null},"y":{"field":"q1","type":"quantitative"},"y2":{"field":"q3"},"fill":{"field":"g","type":"nominal","scale":{"domain":[1,2,3,4],"range":["#333333","#d3d3d3","#555555","#f0f0f0"]},"legend":null}}},
{"mark":{"type":"tick","orient":"horizontal","size":39,"thickness":4,"color":"#000"},"encoding":{"x":{"field":"g","type":"quantitative","axis":{"orient":"top","labels":false,"ticks":false,"domain":false,"title":"Adenine","titleFont":"Lato","titleFontSize":45,"titleFontWeight":"normal","titleX":161,"titleY":-179}},"y":{"field":"md","type":"quantitative"}}},
{"mark":{"type":"tick","orient":"horizontal","size":24,"thickness":4.5,"color":"#000"},"encoding":{"x":{"field":"g","type":"quantitative","axis":null},"y":{"field":"lo","type":"quantitative"}}},
{"mark":{"type":"tick","orient":"horizontal","size":24,"thickness":4.5,"color":"#000"},"encoding":{"x":{"field":"g","type":"quantitative","axis":null},"y":{"field":"hi","type":"quantitative"}}},
{"mark":{"type":"rule","strokeWidth":3.5,"color":"#000"},"encoding":{"x":{"datum":0.324,"type":"quantitative","axis":null},"y":{"datum":-0.01,"type":"quantitative"},"y2":{"datum":0.05}}}
]},
{"data":{"name":"br"},"transform":[{"filter":"datum.p=='B7'"},{"calculate":"(datum.g1+datum.g2)/2","as":"mid"}],"layer":[
{"mark":{"type":"rule","strokeWidth":3,"color":"#000"},"encoding":{"x":{"field":"g1","type":"quantitative","axis":null},"x2":{"field":"g2"},"y":{"field":"top","type":"quantitative"}}},
{"mark":{"type":"rule","strokeWidth":3,"color":"#000"},"encoding":{"x":{"field":"g1","type":"quantitative","axis":null},"y":{"field":"top","type":"quantitative"},"y2":{"field":"l"}}},
{"mark":{"type":"rule","strokeWidth":3,"color":"#000"},"encoding":{"x":{"field":"g2","type":"quantitative","axis":null},"y":{"field":"top","type":"quantitative"},"y2":{"field":"r"}}},
{"mark":{"type":"text","font":"Liberation Sans","fontSize":28,"color":"#3a3a3a","baseline":"alphabetic","dy":-15},"encoding":{"x":{"field":"mid","type":"quantitative","axis":null},"y":{"field":"top","type":"quantitative"},"text":{"field":"lab"}}}
]}
]},
{"width":285,"height":341,"layer":[
{"data":{"name":"box"},"transform":[{"filter":"datum.p=='B8'"}],"layer":[
{"mark":{"type":"rule","strokeWidth":4.5,"color":"#000"},"encoding":{"x":{"field":"g","type":"quantitative","scale":{"domain":[0.3208,4.354],"nice":false,"zero":false},"axis":{"orient":"bottom","values":[1,2,3,4],"labelExpr":"['POST1 CTL','POST2 CTL','POST1 WBC','POST2 WBC'][datum.value-1]","title":"ANOVA : p = 0.0079","titleX":128,"titleY":172}},"y":{"field":"lo","type":"quantitative","scale":{"domain":[0,0.02296],"nice":false,"zero":false},"axis":{"values":[0,0.005,0.01,0.015,0.02],"format":".3f","title":null,"domain":false}},"y2":{"field":"hi"}}},
{"mark":{"type":"bar","width":39,"stroke":"#000","strokeWidth":4.5},"encoding":{"x":{"field":"g","type":"quantitative","axis":null},"y":{"field":"q1","type":"quantitative"},"y2":{"field":"q3"},"fill":{"field":"g","type":"nominal","scale":{"domain":[1,2,3,4],"range":["#808080","#d3d3d3","#a8a8a8","#f0f0f0"]},"legend":null}}},
{"mark":{"type":"tick","orient":"horizontal","size":39,"thickness":4,"color":"#000"},"encoding":{"x":{"field":"g","type":"quantitative","axis":{"orient":"top","labels":false,"ticks":false,"domain":false,"title":"Formate","titleFont":"Lato","titleFontSize":45,"titleFontWeight":"normal","titleX":121,"titleY":-182}},"y":{"field":"md","type":"quantitative"}}},
{"mark":{"type":"tick","orient":"horizontal","size":24,"thickness":4.5,"color":"#000"},"encoding":{"x":{"field":"g","type":"quantitative","axis":null},"y":{"field":"lo","type":"quantitative"}}},
{"mark":{"type":"tick","orient":"horizontal","size":24,"thickness":4.5,"color":"#000"},"encoding":{"x":{"field":"g","type":"quantitative","axis":null},"y":{"field":"hi","type":"quantitative"}}},
{"mark":{"type":"rule","strokeWidth":3.5,"color":"#000"},"encoding":{"x":{"datum":0.3208,"type":"quantitative","axis":null},"y":{"datum":0,"type":"quantitative"},"y2":{"datum":0.02}}}
]},
{"data":{"name":"br"},"transform":[{"filter":"datum.p=='B8'"},{"calculate":"(datum.g1+datum.g2)/2","as":"mid"}],"layer":[
{"mark":{"type":"rule","strokeWidth":3,"color":"#000"},"encoding":{"x":{"field":"g1","type":"quantitative","axis":null},"x2":{"field":"g2"},"y":{"field":"top","type":"quantitative"}}},
{"mark":{"type":"rule","strokeWidth":3,"color":"#000"},"encoding":{"x":{"field":"g1","type":"quantitative","axis":null},"y":{"field":"top","type":"quantitative"},"y2":{"field":"l"}}},
{"mark":{"type":"rule","strokeWidth":3,"color":"#000"},"encoding":{"x":{"field":"g2","type":"quantitative","axis":null},"y":{"field":"top","type":"quantitative"},"y2":{"field":"r"}}},
{"mark":{"type":"text","font":"Liberation Sans","fontSize":28,"color":"#3a3a3a","baseline":"alphabetic","dy":-15},"encoding":{"x":{"field":"mid","type":"quantitative","axis":null},"y":{"field":"top","type":"quantitative"},"text":{"field":"lab"}}}
]}
]}
],
"config":{
"view":{"stroke":null},
"axis":{"grid":false,"labelOverlap":false,"domainColor":"#000","domainWidth":3.5,"tickColor":"#000","tickWidth":3.5,"tickSize":13,"labelColor":"#000","labelFont":"Liberation Sans","labelFontWeight":"bold","labelFontSize":24,"labelPadding":5,"titleColor":"#000","titleFont":"Liberation Sans","titleFontWeight":"bold","titleFontSize":28,"titleBaseline":"alphabetic","titleAlign":"center"},
"axisX":{"labelAngle":-45,"labelAlign":"right","labelBaseline":"middle","labelFontSize":25,"labelPadding":18},
"title":{"font":"Lato","fontSize":62,"fontWeight":"normal","color":"#000"}
}
}
